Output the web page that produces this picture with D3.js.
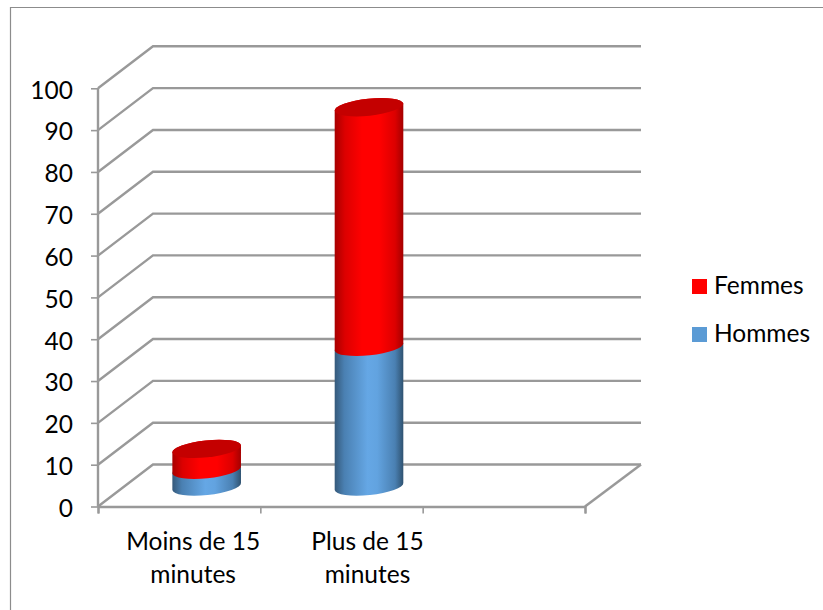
<!DOCTYPE html>
<html><head><meta charset="utf-8">
<script src="https://cdn.jsdelivr.net/npm/d3@7"></script>
<style>html,body{margin:0;padding:0;background:#fff}svg{display:block}text{font-family:Lato,sans-serif;fill:#000}</style>
</head><body><div id="c"></div>
<script>
const categories = ["Moins de 15 minutes", "Plus de 15 minutes", ""];
const categoryLines = [["Moins de 15", "minutes"], ["Plus de 15", "minutes"], []];
const seriesNames = ["Hommes", "Femmes"];
const hommes = [4, 33.4];
const femmes = [5, 57.3];
const yTicks = [0,10,20,30,40,50,60,70,80,90,100];
const legendOrder = ["Femmes", "Hommes"];

const W=823,H=610, FS=24.5;
const depth={x:55,y:-42}, barLift=-20, rx=34.5, ry=8.5, rot=-6;
const labelShift=[14,26,0];
const svg=d3.select("#c").append("svg").attr("width",W).attr("height",H);
const defs=svg.append("defs");
function grad(id,stops){const g=defs.append("linearGradient").attr("id",id).attr("x1","0%").attr("x2","100%").attr("y1","0%").attr("y2","0%");
 stops.forEach(s=>g.append("stop").attr("offset",s[0]).attr("stop-color",s[1]));}
grad("gH",[["0%","#35597a"],["14%","#4a80b2"],["48%","#65a7e5"],["62%","#62a3e0"],["88%","#4a80b2"],["100%","#2f5270"]]);
grad("gF",[["0%","#a80000"],["15%","#dc0000"],["40%","#ff0000"],["65%","#ff0000"],["88%","#dc0000"],["100%","#a40000"]]);

svg.append("path").attr("d","M10.5,610V7.5H823").attr("fill","none").attr("stroke","#8c8c8c").attr("stroke-width",1.2);

const y=d3.scaleLinear().domain([0,100]).range([506.5,88.3]);
const xBand=d3.scaleBand().domain(categories).range([98,585]);
const xEdge=d3.scaleLinear().domain([0,3]).range([98,585]);
const backRight=641;
const grid=svg.append("g").attr("fill","none").attr("stroke","#999").attr("stroke-width",2.4);
grid.selectAll("path").data(yTicks).join("path")
 .attr("d",d=>d3.line()([[xEdge(0),y(d)],[xEdge(0)+depth.x,y(d)+depth.y],[backRight,y(d)+depth.y]]));
grid.append("path").attr("d",d3.line()([[xEdge(3),y(0)],[backRight,y(0)+depth.y]]));

const ax=svg.append("g").attr("transform",`translate(${xEdge(0)},0)`)
 .call(d3.axisLeft(y).tickValues(yTicks).tickSize(7).tickPadding(18));
ax.select(".domain").attr("stroke","#999").attr("stroke-width",2.4).attr("d",`M0,${y(0)}V${y(100)}`);
ax.selectAll("line").attr("stroke","#999").attr("stroke-width",1.6);
ax.selectAll("text").attr("font-size",FS).attr("font-family","Lato,sans-serif").attr("fill","#000").attr("dy","0.4em");

const bx=svg.append("g").attr("transform",`translate(0,${y(0)})`)
 .call(d3.axisBottom(xEdge).tickValues([0,1,2,3]).tickSize(7).tickFormat(""));
bx.select(".domain").attr("stroke","#999").attr("stroke-width",2.4);
bx.selectAll("line").attr("stroke","#999").attr("stroke-width",1.6);

const cos=Math.cos(rot*Math.PI/180), sin=Math.sin(rot*Math.PI/180);
function seg(cx,y0,y1){
 const lx=cx-rx*cos, rxx=cx+rx*cos, dy=rx*sin;
 return `M${lx},${y1-dy}L${lx},${y0-dy}A${rx},${ry} ${rot} 0 0 ${rxx},${y0+dy}L${rxx},${y1+dy}A${rx},${ry} ${rot} 0 0 ${lx},${y1-dy}Z`;
}
const bars=svg.append("g");
categories.slice(0,2).forEach((c,i)=>{
 const cx=xBand(c)+xBand.bandwidth()/2+depth.x/2;
 const b=y(0)+barLift, h=y(0)-y(hommes[i]), f=y(0)-y(hommes[i]+femmes[i]);
 bars.append("path").attr("d",seg(cx,b,b-h)).attr("fill","url(#gH)");
 bars.append("path").attr("d",seg(cx,b-h,b-f)).attr("fill","url(#gF)");
 bars.append("ellipse").attr("rx",rx).attr("ry",ry).attr("fill","#c40000")
  .attr("transform",`translate(${cx},${b-f}) rotate(${rot})`);
});

const labels=svg.append("g").attr("text-anchor","middle").attr("font-size",FS);
categories.forEach((c,i)=>{
 categoryLines[i].forEach((t,j)=>{
  labels.append("text").attr("x",xBand(c)+xBand.bandwidth()/2+labelShift[i]).attr("y",550+j*33).text(t);
 });
});

const color={Femmes:"#ff0000",Hommes:"#5b9bd5"};
const ly=d3.scalePoint().domain(legendOrder).range([279,327]);
const lg=svg.append("g");
legendOrder.forEach(n=>{
 lg.append("rect").attr("x",692).attr("y",ly(n)).attr("width",15).attr("height",15).attr("fill",color[n]);
 lg.append("text").attr("x",714).attr("y",ly(n)+15).attr("font-size",FS).text(n);
});
</script></body></html>
